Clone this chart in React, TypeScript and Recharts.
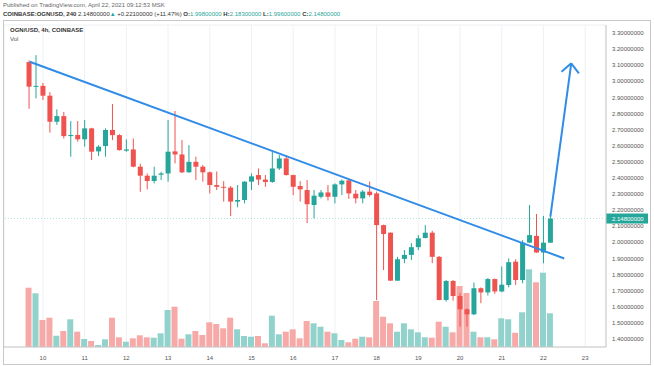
import {
  ComposedChart,
  Bar,
  XAxis,
  YAxis,
  CartesianGrid,
  ReferenceLine,
  Cell,
} from 'recharts';

// OGN/USD 4h candles, first one is Apr 9 16:00
const opens = [
  3.12, 2.967, 2.972, 2.911, 2.749, 2.784, 2.66, 2.667, 2.64, 2.708,
  2.565, 2.598, 2.698, 2.666, 2.569, 2.577, 2.47, 2.414, 2.381, 2.42,
  2.428, 2.565, 2.546, 2.435, 2.5, 2.47, 2.435, 2.356, 2.345, 2.34,
  2.253, 2.263, 2.377, 2.418, 2.39, 2.375, 2.459, 2.521, 2.418, 2.35,
  2.325, 2.232, 2.283, 2.31, 2.283, 2.36, 2.385, 2.302, 2.273, 2.315,
  2.304, 2.107, 2.06, 1.762, 1.897, 1.922, 1.97, 2.027, 2.06, 1.91,
  1.642, 1.76, 1.667, 1.584, 1.553, 1.715, 1.689, 1.772, 1.695, 1.735,
  1.88, 1.766, 1.998, 2.04, 1.937, 1.998,
];
const highs = [
  3.13, 3.163, 2.99, 2.933, 2.826, 2.81, 2.753, 2.753, 2.76, 2.712,
  2.604, 2.708, 2.859, 2.672, 2.64, 2.645, 2.488, 2.428, 2.47, 2.438,
  2.76, 2.816, 2.635, 2.604, 2.532, 2.48, 2.44, 2.44, 2.38, 2.35,
  2.356, 2.38, 2.428, 2.459, 2.418, 2.563, 2.542, 2.542, 2.42, 2.38,
  2.387, 2.325, 2.325, 2.356, 2.366, 2.39, 2.39, 2.325, 2.325, 2.377,
  2.315, 2.11, 2.062, 1.91, 1.952, 1.995, 2.045, 2.107, 2.072, 1.915,
  1.766, 1.766, 1.685, 1.59, 1.75, 1.72, 1.778, 1.775, 1.85, 1.9,
  1.895, 2.014, 2.232, 2.176, 2.164, 2.183,
];
const lows = [
  2.83, 2.894, 2.884, 2.681, 2.73, 2.645, 2.532, 2.625, 2.594, 2.511,
  2.536, 2.532, 2.635, 2.57, 2.563, 2.466, 2.314, 2.329, 2.366, 2.387,
  2.377, 2.49, 2.43, 2.433, 2.387, 2.377, 2.304, 2.325, 2.253, 2.163,
  2.218, 2.242, 2.325, 2.356, 2.345, 2.37, 2.449, 2.415, 2.294, 2.253,
  2.12, 2.149, 2.273, 2.26, 2.242, 2.294, 2.27, 2.242, 2.242, 2.283,
  1.642, 1.828, 1.76, 1.76, 1.87, 1.89, 1.952, 2.025, 1.87, 1.64,
  1.632, 1.638, 1.476, 1.476, 1.548, 1.622, 1.67, 1.68, 1.69, 1.72,
  1.735, 1.745, 1.995, 1.935, 1.87, 1.996,
];
const closes = [
  2.967, 2.972, 2.911, 2.749, 2.784, 2.66, 2.667, 2.64, 2.708, 2.563,
  2.594, 2.698, 2.666, 2.573, 2.577, 2.47, 2.414, 2.381, 2.414, 2.428,
  2.563, 2.546, 2.435, 2.5, 2.47, 2.435, 2.356, 2.345, 2.34, 2.253,
  2.263, 2.377, 2.41, 2.39, 2.375, 2.459, 2.521, 2.418, 2.345, 2.329,
  2.237, 2.29, 2.31, 2.283, 2.36, 2.383, 2.304, 2.273, 2.315, 2.294,
  2.107, 2.052, 1.762, 1.895, 1.922, 1.97, 2.025, 2.06, 1.91, 1.642,
  1.76, 1.667, 1.584, 1.553, 1.715, 1.689, 1.772, 1.695, 1.737, 1.877,
  1.766, 1.998, 2.045, 1.937, 1.998, 2.148,
];
const volumes = [
  59.3, 53.7, 27, 29.3, 11.3, 16, 27.7, 15.3, 8, 6,
  2, 7.7, 29.3, 9.7, 5.3, 8.7, 11.7, 9.7, 9.3, 13.7,
  37, 40.3, 8.3, 12.7, 16, 12, 24.7, 23, 18.7, 29.3,
  17.7, 11, 10.3, 11, 3.7, 31.3, 12.7, 15.3, 17.7, 8.7,
  26, 23.7, 20.3, 15.3, 13.7, 7, 4.7, 8.3, 10.3, 9.7,
  46, 30.3, 23.7, 15.3, 23.7, 17.7, 14.7, 9.7, 9.3, 25.3,
  20.3, 14.7, 61, 54, 15.3, 9.7, 9.7, 7.7, 28.7, 27.7,
  14.3, 34.7, 77.7, 64.7, 74.3, 33.7,
];

const dayLabels = ['10', '11', '12', '13', '14', '15', '16', '17', '18', '19', '20', '21', '22', '23'];
const priceTicks = [1.4, 1.5, 1.6, 1.7, 1.8, 1.9, 2.0, 2.1, 2.2, 2.3, 2.4, 2.5, 2.6, 2.7, 2.8, 2.9, 3.0, 3.1, 3.2, 3.3];
const lastPrice = 2.148;

// drawn lines (candle index, price)
const trendLine = [{ i: 0.1, p: 3.122 }, { i: 77, p: 1.9 }];
const arrowShaft = [{ i: 75, p: 2.16 }, { i: 78, p: 3.112 }];
const arrowLeft = [{ i: 76.6, p: 3.06 }, { i: 78, p: 3.112 }];
const arrowRight = [{ i: 79.1, p: 3.05 }, { i: 78, p: 3.112 }];

const GREEN = '#26a69a';
const RED = '#ef5350';
const GREEN_VOL = '#92d2cc';
const RED_VOL = '#f7a9a7';
const BLUE = '#318ce7';
const FONT = '"Liberation Sans", Arial, sans-serif';
const X_DOMAIN = [-3.6, 83];

// first candle is 16:00 on the 9th, so midnight of the 10th is candle 2
const dayTicks = dayLabels.map((_, k) => 2 + k * 6);

const data = opens.map((o, i) => ({
  i,
  open: o,
  high: highs[i],
  low: lows[i],
  close: closes[i],
  vol: volumes[i],
}));

const Candle = (props: any) => {
  const { x, y, width, height, payload } = props;
  if (!payload) return null;
  const { open, close, high, low } = payload;
  const color = close >= open ? GREEN : RED;
  const top = Math.min(y, y + height);
  const h = Math.abs(height);
  const k = h / (high - low);
  const yOf = (v: number) => top + (high - v) * k;
  const cx = x + width / 2;
  const bTop = yOf(Math.max(open, close));
  const bBot = yOf(Math.min(open, close));
  return (
    <g>
      <line x1={cx} x2={cx} y1={top} y2={top + h} stroke={color} strokeWidth={1} />
      <rect x={x} y={bTop} width={width} height={Math.max(1, bBot - bTop)} fill={color} />
    </g>
  );
};

const PriceTag = (props: any) => {
  const { viewBox } = props;
  if (!viewBox) return null;
  const x = viewBox.x + viewBox.width;
  const y = viewBox.y;
  return (
    <g>
      <rect x={x} y={y - 5} width={42} height={10} fill={GREEN} />
      <text x={x + 6} y={y + 2.5} fontSize={6} fill="#fff" fontFamily={FONT}>
        {lastPrice.toFixed(8)}
      </text>
    </g>
  );
};

export default function App() {
  return (
    <div style={{ position: 'absolute', left: 0, top: 0, width: 654, height: 366, background: '#fff', fontFamily: FONT }}>
      <div style={{ position: 'absolute', left: 3, top: 2, fontSize: 6, color: '#666', whiteSpace: 'nowrap' }}>
        Published on TradingView.com, April 22, 2021 09:12:53 MSK
      </div>
      <div style={{ position: 'absolute', left: 3, top: 11, fontSize: 6, color: '#333', whiteSpace: 'nowrap' }}>
        <b>COINBASE:OGNUSD, 240</b> 2.14800000<span style={{ color: GREEN }}>▲</span> +0.22100000 (+11.47%){' '}
        <b>O:</b><span style={{ color: GREEN }}>1.99800000</span>{' '}
        <b>H:</b><span style={{ color: GREEN }}>2.18300000</span>{' '}
        <b>L:</b><span style={{ color: GREEN }}>1.99600000</span>{' '}
        <b>C:</b><span style={{ color: GREEN }}>2.14800000</span>
      </div>
      <div style={{ position: 'absolute', left: 3, top: 20, width: 648, height: 345, border: '1px solid #c8c8c8', boxSizing: 'border-box' }} />
      <div style={{ position: 'absolute', left: 4, top: 21 }}>
        <ComposedChart width={646} height={343} data={data} margin={{ top: 4, right: 0, bottom: 0, left: 0 }}>
          <CartesianGrid stroke="#eef0f4" strokeWidth={1} />
          <XAxis
            dataKey="i"
            type="number"
            domain={X_DOMAIN}
            ticks={dayTicks}
            tickFormatter={(v: number) => dayLabels[(v - 2) / 6]}
            interval={0}
            height={17}
            axisLine={{ stroke: '#c8c8c8' }}
            tickLine={false}
            tick={{ fontSize: 6, fill: '#555', fontFamily: FONT }}
            tickMargin={3}
            allowDataOverflow
          />
          <XAxis xAxisId="v" dataKey="i" type="number" domain={X_DOMAIN} hide height={0} allowDataOverflow />
          <YAxis
            yAxisId="price"
            orientation="right"
            domain={[1.35, 3.35]}
            ticks={priceTicks}
            interval={0}
            width={44}
            tickFormatter={(v: number) => v.toFixed(8)}
            axisLine={{ stroke: '#c8c8c8' }}
            tickLine={false}
            tickSize={0}
            tickMargin={6}
            tick={{ fontSize: 6, fill: '#555', fontFamily: FONT, textAnchor: 'start' }}
            allowDataOverflow
          />
          <YAxis yAxisId="vol" hide domain={[0, 322]} />
          <Bar xAxisId="v" yAxisId="vol" dataKey="vol" barSize={6} isAnimationActive={false}>
            {data.map((d) => (
              <Cell key={d.i} fill={d.close >= d.open ? GREEN_VOL : RED_VOL} />
            ))}
          </Bar>
          <Bar
            yAxisId="price"
            dataKey={(d: any) => [d.low, d.high]}
            barSize={5}
            shape={Candle}
            isAnimationActive={false}
          />
          <ReferenceLine
            yAxisId="price"
            y={lastPrice}
            stroke={GREEN}
            strokeOpacity={0.35}
            strokeDasharray="1 2"
            label={<PriceTag />}
          />
          <ReferenceLine yAxisId="price" segment={trendLine.map((d) => ({ x: d.i, y: d.p }))} stroke={BLUE} strokeWidth={2} ifOverflow="visible" />
          <ReferenceLine yAxisId="price" segment={arrowShaft.map((d) => ({ x: d.i, y: d.p }))} stroke={BLUE} strokeWidth={2} ifOverflow="visible" />
          <ReferenceLine yAxisId="price" segment={arrowLeft.map((d) => ({ x: d.i, y: d.p }))} stroke={BLUE} strokeWidth={2} ifOverflow="visible" />
          <ReferenceLine yAxisId="price" segment={arrowRight.map((d) => ({ x: d.i, y: d.p }))} stroke={BLUE} strokeWidth={2} ifOverflow="visible" />
        </ComposedChart>
      </div>
      <div style={{ position: 'absolute', left: 10, top: 27, fontSize: 6, color: '#333', fontWeight: 'bold' }}>
        OGN/USD, 4h, COINBASE
      </div>
      <div style={{ position: 'absolute', left: 10, top: 36, fontSize: 6, color: '#555' }}>Vol</div>
    </div>
  );
}
